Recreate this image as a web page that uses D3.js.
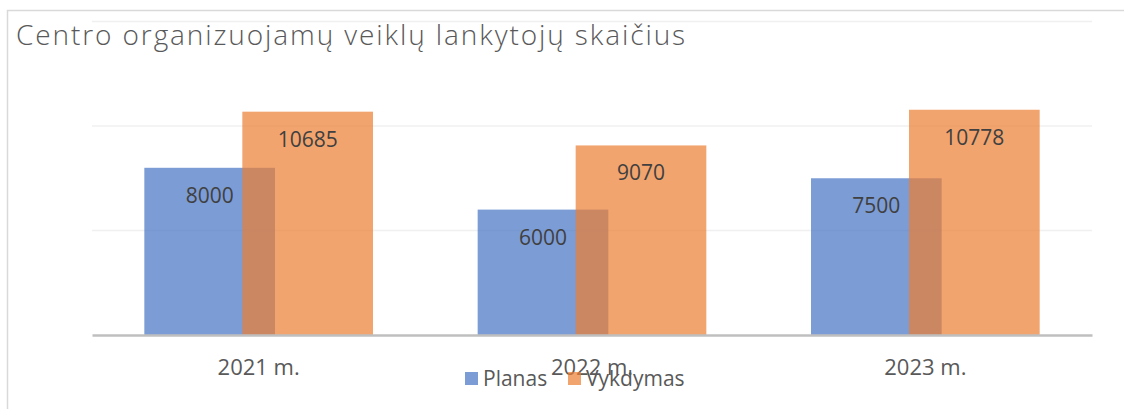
<!DOCTYPE html>
<html lang="lt">
  <head>
    <meta charset="utf-8">
    <title>Centro organizuojamų veiklų lankytojų skaičius</title>
    <script src="https://cdnjs.cloudflare.com/ajax/libs/d3/7.8.5/d3.min.js"></script>
    <style>
      body { margin: 0; background: #fff; }
      svg { display: block; }
      text { font-family: "Open Sans", sans-serif; }
    </style>
  </head>
  <body>
    <script>
    // chart data
    const years = ["2021 m.", "2022 m.", "2023 m."];
    const planas = [8000, 6000, 7500];
    const vykdymas = [10685, 9070, 10778];
    const seriesNames = ["Planas", "Vykdymas"];
    const seriesColors = ["#4472C4", "#ED7D31"];
    const yTicks = [0, 5000, 10000, 15000];

    const w = 1124, h = 409;
    const plotLeft = 92, plotRight = 1092, plotTop = 21.5, plotBottom = 335;

    const svg = d3.select("body").append("svg")
      .attr("width", w)
      .attr("height", h);

    // chart frame (only top and left edges are in view)
    svg.append("path")
      .attr("d", "M7.5,409 V10.5 H1124")
      .attr("fill", "none")
      .attr("stroke", "#D9D9D9")
      .attr("stroke-width", 1.5);

    svg.append("text")
      .attr("x", 16)
      .attr("y", 45)
      .attr("font-size", 28)
      .attr("font-weight", 300)
      .attr("letter-spacing", 1.9)
      .attr("fill", "#595959")
      .text("Centro organizuojamų veiklų lankytojų skaičius");

    const x = d3.scaleBand().domain(years).range([plotLeft, plotRight]);
    const y = d3.scaleLinear().domain([0, 15000]).range([plotBottom, plotTop]);

    const bw = x.bandwidth() * 0.392;
    const offset = d3.scaleOrdinal().domain(seriesNames).range([-0.375 * bw, 0.375 * bw]);

    // gridlines
    svg.append("g")
      .selectAll("line")
      .data(yTicks.slice(1))
      .join("line")
      .attr("x1", plotLeft)
      .attr("x2", plotRight)
      .attr("y1", d => y(d))
      .attr("y2", d => y(d))
      .attr("stroke", "#F0F0F0")
      .attr("stroke-width", 1.5);

    const series = [planas, vykdymas];
    series.forEach((vals, s) => {
      svg.append("g")
        .selectAll("rect")
        .data(vals)
        .join("rect")
        .attr("x", (d, i) => x(years[i]) + x.bandwidth() / 2 + offset(seriesNames[s]) - bw / 2)
        .attr("y", d => y(d))
        .attr("width", bw)
        .attr("height", d => y(0) - y(d))
        .attr("fill", seriesColors[s])
        .attr("fill-opacity", 0.7);
    });

    // value labels
    series.forEach((vals, s) => {
      svg.append("g")
        .selectAll("text")
        .data(vals)
        .join("text")
        .attr("x", (d, i) => x(years[i]) + x.bandwidth() / 2 + offset(seriesNames[s]))
        .attr("y", d => y(d) + 35)
        .attr("text-anchor", "middle")
        .attr("font-size", 21)
        .attr("fill", "#404040")
        .text(d => d);
    });

    // x axis
    const xAxis = svg.append("g")
      .attr("transform", "translate(0," + plotBottom + ")")
      .call(d3.axisBottom(x).tickSize(0).tickPadding(24));
    xAxis.select(".domain")
      .attr("stroke", "#BFBFBF")
      .attr("stroke-width", 2.5);
    xAxis.selectAll("text")
      .attr("font-family", "Open Sans, sans-serif")
      .attr("font-size", 22)
      .attr("fill", "#595959");

    // legend
    const legendX = [465, 568];
    const legend = svg.append("g")
      .selectAll("g")
      .data(seriesNames)
      .join("g")
      .attr("transform", (d, i) => "translate(" + legendX[i] + ",372)");
    legend.append("rect")
      .attr("width", 13)
      .attr("height", 13)
      .attr("fill", (d, i) => seriesColors[i])
      .attr("fill-opacity", 0.7);
    legend.append("text")
      .attr("x", 18)
      .attr("y", 13.5)
      .attr("font-size", 21)
      .attr("fill", "#595959")
      .text(d => d);
    </script>
  </body>
</html>
